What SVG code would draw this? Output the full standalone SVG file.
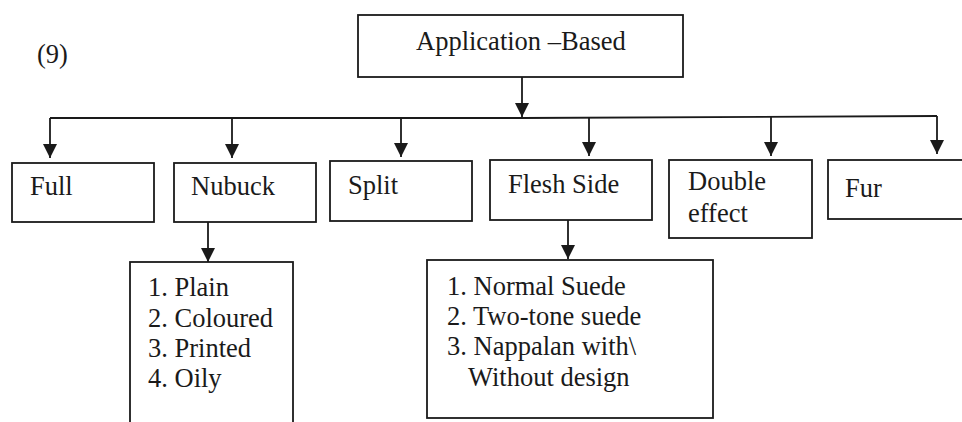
<svg xmlns="http://www.w3.org/2000/svg" width="962" height="422" viewBox="0 0 962 422">
  <style>
    .box { fill: #fff; stroke: #1a1a1a; stroke-width: 1.8; }
    .lbl { font-family: "Liberation Serif", "Times New Roman", serif; font-size: 26.5px; fill: #1a1a1a; }
    .wire { fill: none; stroke: #1a1a1a; stroke-width: 1.8; }
  </style>
  <defs>
    <!-- downward-pointing arrowhead; the marker's x axis follows the line -->
    <marker id="tri" markerUnits="userSpaceOnUse" markerWidth="16" markerHeight="16" viewBox="0 0 16 16" refX="15" refY="8" orient="auto">
      <path d="M1,1 L15,8 L1,15 Z" fill="#1a1a1a"/>
    </marker>
  </defs>
  <rect width="962" height="422" fill="#fff"/>

  <text class="lbl" x="37" y="63" font-size="24">(9)</text>

  <g id="connectors">
    <path class="wire" d="M522,77 V117" marker-end="url(#tri)"/>
    <path class="wire" d="M50,118 H522 L937,116"/>
    <path class="wire" d="M50,118 V158" marker-end="url(#tri)"/>
    <path class="wire" d="M232,118 V158" marker-end="url(#tri)"/>
    <path class="wire" d="M401,118 V157" marker-end="url(#tri)"/>
    <path class="wire" d="M589,117 V156" marker-end="url(#tri)"/>
    <path class="wire" d="M771,116 V156" marker-end="url(#tri)"/>
    <path class="wire" d="M937,116 V154" marker-end="url(#tri)"/>
    <path class="wire" d="M208,222 V262" marker-end="url(#tri)"/>
    <path class="wire" d="M568,220 V259" marker-end="url(#tri)"/>
  </g>

  <g id="root">
    <rect class="box" x="358" y="15" width="325" height="62"/>
    <text class="lbl" x="416" y="50">Application –Based</text>
  </g>

  <g id="full">
    <rect class="box" x="12" y="163" width="142" height="59"/>
    <text class="lbl" x="30" y="195">Full</text>
  </g>

  <g id="nubuck">
    <rect class="box" x="174" y="163" width="142" height="59"/>
    <text class="lbl" x="191" y="195">Nubuck</text>
  </g>

  <g id="split">
    <rect class="box" x="330" y="161" width="142" height="60"/>
    <text class="lbl" x="348" y="194">Split</text>
  </g>

  <g id="flesh-side">
    <rect class="box" x="490" y="160" width="162" height="60"/>
    <text class="lbl" x="508" y="193">Flesh Side</text>
  </g>

  <g id="double-effect">
    <rect class="box" x="669" y="160" width="143" height="78"/>
    <text class="lbl" x="688" y="190">Double</text>
    <text class="lbl" x="688" y="222">effect</text>
  </g>

  <g id="fur">
    <rect class="box" x="828" y="160" width="150" height="59"/>
    <text class="lbl" x="845" y="197">Fur</text>
  </g>

  <g id="nubuck-types">
    <rect class="box" x="130" y="262" width="163" height="180"/>
    <text class="lbl" x="148" y="296">1. Plain</text>
    <text class="lbl" x="148" y="327">2. Coloured</text>
    <text class="lbl" x="148" y="357">3. Printed</text>
    <text class="lbl" x="148" y="387">4. Oily</text>
  </g>

  <g id="flesh-types">
    <rect class="box" x="427" y="260" width="286" height="158"/>
    <text class="lbl" x="447" y="295">1. Normal Suede</text>
    <text class="lbl" x="447" y="325">2. Two-tone suede</text>
    <text class="lbl" x="447" y="355">3. Nappalan with\</text>
    <text class="lbl" x="468" y="386">Without design</text>
  </g>
</svg>
